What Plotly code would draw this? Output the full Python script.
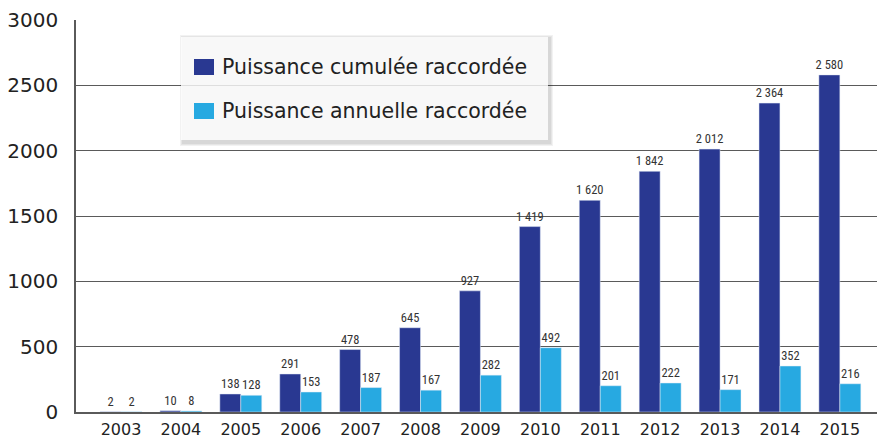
import plotly.graph_objects as go

years = ["2003", "2004", "2005", "2006", "2007", "2008", "2009",
         "2010", "2011", "2012", "2013", "2014", "2015"]
cumulee = [2, 10, 138, 291, 478, 645, 927, 1419, 1620, 1842, 2012, 2364, 2580]
annuelle = [2, 8, 128, 153, 187, 167, 282, 492, 201, 222, 171, 352, 216]
series_names = ["Puissance cumulée raccordée", "Puissance annuelle raccordée"]
y_ticks = [0, 500, 1000, 1500, 2000, 2500, 3000]

DARK = "#293891"
LIGHT = "#27A9E1"
GRID = "#5a5a5a"
TXT = "#222222"


def fmt(v):
    s = f"{v:,}".replace(",", " ")
    return s


W, H = 877, 438
L, R, T, B = 76, 0, 20, 26
PW, PH = W - L - R, H - T - B


def px(x):
    return (x - L) / PW


def py(y):
    return (H - B - y) / PH


LABEL_FONT = dict(family="Liberation Sans Narrow, Roboto Condensed, Roboto", size=12.5, color="#333")

fig = go.Figure()
fig.add_trace(go.Bar(x=years, y=cumulee, name=series_names[0], marker_color=DARK,
                     text=[fmt(v) for v in cumulee], textposition="outside",
                     textfont=LABEL_FONT, constraintext="none",
                     cliponaxis=False, showlegend=False))
fig.add_trace(go.Bar(x=years, y=annuelle, name=series_names[1], marker_color=LIGHT,
                     text=[fmt(v) for v in annuelle], textposition="outside",
                     textfont=LABEL_FONT, constraintext="none",
                     cliponaxis=False, showlegend=False))

shapes = []
# legend shadow
bx0, bx1, by0, by1 = 181, 548, 37, 140
for i, a in enumerate([0.05, 0.05, 0.06]):
    o = 3 - i
    shapes.append(dict(type="rect", xref="paper", yref="paper",
                       x0=px(bx0 - o + 2), x1=px(bx1 + o + 2), y0=py(by1 + o + 3), y1=py(by0 - o + 1),
                       fillcolor=f"rgba(0,0,0,{a})", line=dict(width=0), layer="above"))
shapes.append(dict(type="rect", xref="paper", yref="paper",
                   x0=px(bx0), x1=px(bx1), y0=py(by1), y1=py(by0),
                   fillcolor="rgba(255,255,255,0.82)", line=dict(width=0), layer="above"))
shapes.append(dict(type="rect", xref="paper", yref="paper",
                   x0=px(194), x1=px(214), y0=py(75), y1=py(59),
                   fillcolor=DARK, line=dict(width=0), layer="above"))
shapes.append(dict(type="rect", xref="paper", yref="paper",
                   x0=px(194), x1=px(214), y0=py(119), y1=py(103),
                   fillcolor=LIGHT, line=dict(width=0), layer="above"))

annotations = [
    dict(text=series_names[0], xref="paper", yref="paper", x=px(220), y=py(67),
         xanchor="left", yanchor="middle", showarrow=False,
         font=dict(family="DejaVu Sans", size=20.5, color=TXT)),
    dict(text=series_names[1], xref="paper", yref="paper", x=px(220), y=py(111),
         xanchor="left", yanchor="middle", showarrow=False,
         font=dict(family="DejaVu Sans", size=20.5, color=TXT)),
]

fig.update_layout(
    width=W, height=H,
    margin=dict(l=L, r=R, t=T, b=B, autoexpand=False),
    paper_bgcolor="white", plot_bgcolor="white",
    barmode="group", bargap=0.30, bargroupgap=0,
    uniformtext=dict(mode=False),
    shapes=shapes, annotations=annotations,
    showlegend=False,
    xaxis=dict(type="category", range=[-0.751, 12.62], showgrid=False, automargin=False,
               showline=True, linecolor=GRID, linewidth=1.5,
               tickfont=dict(family="DejaVu Sans", size=16, color=TXT),
               ticks="", ticklabelstandoff=2),
    yaxis=dict(range=[0, 3000], tickvals=y_ticks, showgrid=True, gridcolor=GRID, gridwidth=1,
               showline=True, linecolor=GRID, linewidth=1.5, zeroline=False, automargin=False,
               tickfont=dict(family="DejaVu Sans", size=20, color=TXT),
               ticks="", ticklabelstandoff=12),
)

fig.write_html("out.html", config={"displayModeBar": False},
               post_script="document.body.style.margin='0px';document.body.style.overflow='hidden';")
